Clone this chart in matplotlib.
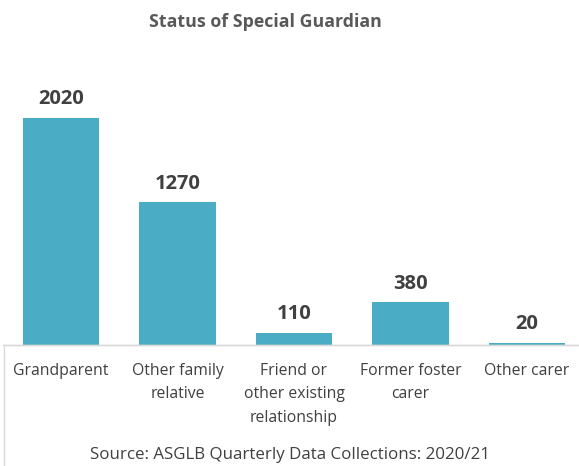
import matplotlib
matplotlib.use("Agg")
import matplotlib.pyplot as plt
from matplotlib.lines import Line2D

categories = ["Grandparent", "Other family\nrelative", "Friend or\nother existing\nrelationship",
              "Former foster\ncarer", "Other carer"]
values = [2020, 1270, 110, 380, 20]

W, H = 579, 466
fig = plt.figure(figsize=(W / 100, H / 100), dpi=100)
plt.rcParams['font.family'] = ['Open Sans', 'DejaVu Sans']

left_px, right_px = 2.75, 579
base_px, top_px = 345, 75.2
ax = fig.add_axes([left_px / W, (H - base_px) / H, (right_px - left_px) / W, (base_px - top_px) / H])
x = list(range(len(categories)))
ax.bar(x, values, width=0.66, color="#4BACC6")
ax.set_xlim(-0.5, (right_px - left_px) / 116.5 - 0.5)
ax.set_ylim(0, 2400)
for xi, v in zip(x, values):
    ax.text(xi, v + 75, f"{v}", ha="center", va="bottom", fontsize=14.5,
            fontweight="bold", color="#404040")
ax.set_xticks(x)
ax.set_xticklabels(categories, fontsize=11.3, color="#404040", linespacing=1.62, va="top")
ax.tick_params(axis="x", length=0, pad=13)
ax.set_yticks([])
for s in ["top", "left", "right"]:
    ax.spines[s].set_visible(False)
ax.spines["bottom"].set_color("#d9d9d9")
ax.spines["bottom"].set_linewidth(1.0)
ax.patch.set_alpha(0)

fig.add_artist(Line2D([4 / W, 4 / W], [0, (H - base_px) / H], color="#d9d9d9", lw=1.0))
fig.add_artist(Line2D([4 / W, 1], [(H - base_px) / H] * 2, color="#d9d9d9", lw=1.0))

fig.text(265.5 / W, 1 - 22 / H, "Status of Special Guardian", ha="center", va="center",
         fontsize=12.8, fontweight="bold", color="#595959")
fig.text(290.5 / W, 1 - 455 / H, "Source: ASGLB Quarterly Data Collections: 2020/21", ha="center",
         va="center", fontsize=12.2, color="#404040")

fig.savefig("out.png", dpi=100)
